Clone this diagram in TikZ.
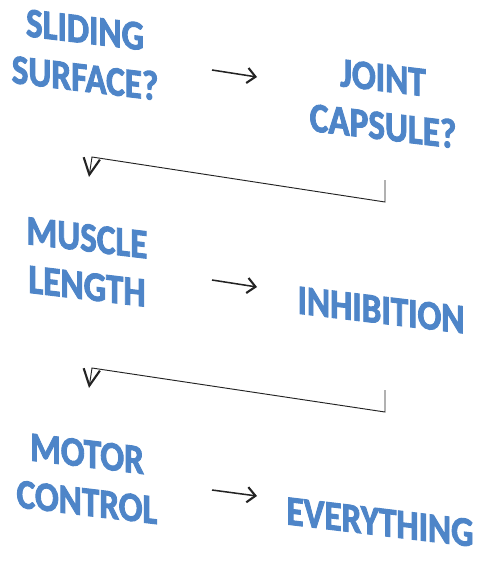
\documentclass[tikz,border=0pt]{standalone}
\usepackage{fontspec}
\setmainfont{Carlito}
\newfontfamily\wafont[BoldFeatures={FakeBold=2.5}]{Carlito}
\usepackage{xcolor}
\usepackage{tikz}
\usetikzlibrary{arrows.meta}
\definecolor{wa1}{RGB}{78,133,200}
\definecolor{ln1}{RGB}{35,35,35}

\begin{document}
\begin{tikzpicture}[x=0.03cm,y=-0.03cm,
  word/.style={font=\wafont\bfseries\fontsize{30}{35}\selectfont,text=wa1,
              align=center,yslant=-0.12,yscale=1.18,inner sep=0pt},
  go/.style={-{Straight Barb[length=7pt,width=13pt,line width=1.8pt]},line width=1.3pt,draw=ln1},
  back/.style={-{Straight Barb[length=14pt,width=14pt,line width=1.8pt]},line width=0.8pt,draw=ln1}
]
\useasboundingbox (0,0) rectangle (478,565);
\node[word] (slide) at (85,54) {SLIDING\\SURFACE?};
\node[word] (joint) at (383,102) {JOINT\\CAPSULE?};
\node[word] (muscle) at (87,262) {MUSCLE\\LENGTH};
\node[word] (inhib) at (381,310) {INHIBITION};
\node[word] (motor) at (87,478) {MOTOR\\CONTROL};
\node[word] (every) at (380,522) {EVERYTHING};
\coordinate (g1a) at (212,70);  \coordinate (g1b) at (257,77);
\coordinate (g2a) at (212,280); \coordinate (g2b) at (257,287);
\coordinate (g3a) at (212,490); \coordinate (g3b) at (257,496);
\draw[go] (g1a) -- (g1b);
\draw[go] (g2a) -- (g2b);
\draw[go] (g3a) -- (g3b);
\coordinate (b1a) at (385,180); \coordinate (b1b) at (385,202);
\coordinate (b1c) at (92,157);  \coordinate (b1d) at (89,177);
\coordinate (b2a) at (385,390); \coordinate (b2b) at (385,412);
\coordinate (b2c) at (92,368);  \coordinate (b2d) at (89,388);
\draw[back] (b1a) -- (b1b) -- (b1c) -- (b1d);
\draw[back] (b2a) -- (b2b) -- (b2c) -- (b2d);
\end{tikzpicture}
\end{document}
